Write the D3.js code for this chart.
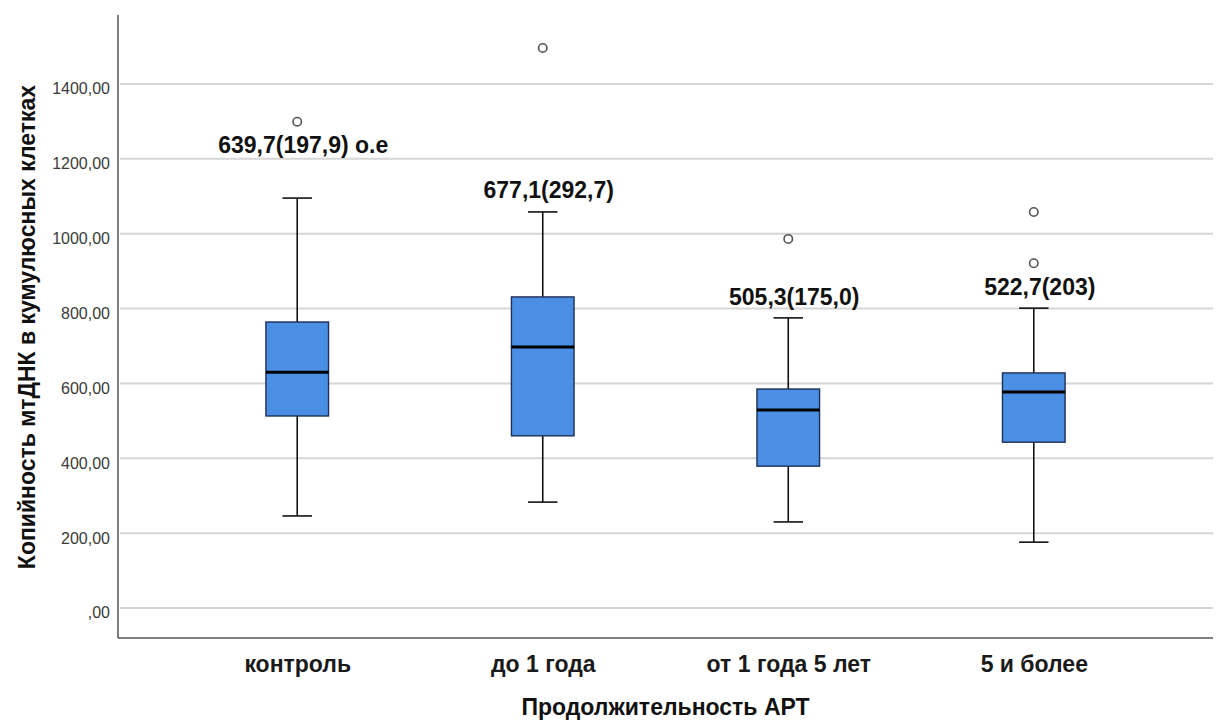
<!DOCTYPE html>
<html>
<head>
<meta charset="utf-8">
<script src="https://cdn.jsdelivr.net/npm/d3@7/dist/d3.min.js"></script>
<style>
  html, body { margin: 0; padding: 0; background: #fff; }
  svg { display: block; }
  text { font-family: "Liberation Sans", Arial, sans-serif; }
</style>
</head>
<body>
<svg id="chart" width="1219" height="722"></svg>
<script>
const categories = ["контроль", "до 1 года", "от 1 года 5 лет", "5 и более"];
const whiskerLow = [246, 283, 230, 176];
const q1 = [513, 460, 379, 443];
const median = [630, 697, 529, 577];
const q3 = [764, 831, 585, 628];
const whiskerHigh = [1095, 1058, 775, 801];
const outliers = [[1299], [1496], [986], [1058, 921]];
const annotations = ["639,7(197,9) о.е", "677,1(292,7)", "505,3(175,0)", "522,7(203)"];
const annotationY = [1216, 1095, 810, 836];
const yTicks = [0, 200, 400, 600, 800, 1000, 1200, 1400];
const xTitle = "Продолжительность АРТ";
const yTitle = "Копийность мтДНК в кумулюсных клетках";

const svg = d3.select("#chart");
const plotLeft = 118, plotRight = 1213, plotTop = 15, plotBottom = 638;

const y = d3.scaleLinear().domain([-80, 1584]).range([plotBottom, plotTop]);
const x = d3.scalePoint().domain(categories).range([plotLeft, plotRight]).padding(0.73);
const step = x.step();
const boxW = step * 0.255;
const capW = boxW * 0.47;

const fmt = v => d3.format(".2f")(v).replace(".", ",").replace(/^0,/, ",");

// gridlines
svg.append("g")
  .selectAll("line").data(yTicks).join("line")
  .attr("x1", plotLeft + 2).attr("x2", plotRight)
  .attr("y1", d => y(d)).attr("y2", d => y(d))
  .attr("stroke", "#d6d6d6").attr("stroke-width", 2);

// y axis
const yAxis = svg.append("g").attr("transform", `translate(${plotLeft},0)`)
  .call(d3.axisLeft(y).tickValues(yTicks).tickFormat(fmt).tickSize(0).tickPadding(8));
yAxis.select(".domain").remove();
yAxis.selectAll("text").attr("font-size", 16).attr("fill", "#3a3a3a")
  .attr("font-family", "'Liberation Sans', Arial, sans-serif").attr("dy", "0.62em");

// axis lines
svg.append("line").attr("x1", plotLeft).attr("x2", plotLeft).attr("y1", plotTop).attr("y2", plotBottom)
  .attr("stroke", "#555").attr("stroke-width", 1.5);
svg.append("line").attr("x1", plotLeft).attr("x2", plotRight).attr("y1", plotBottom).attr("y2", plotBottom)
  .attr("stroke", "#555").attr("stroke-width", 1.5);

// x axis labels
const xAxis = svg.append("g").attr("transform", `translate(0,${plotBottom})`)
  .call(d3.axisBottom(x).tickSize(0).tickPadding(18));
xAxis.select(".domain").remove();
xAxis.selectAll("text").attr("font-size", 23).attr("font-weight", "bold").attr("fill", "#1a1a1a")
  .attr("font-family", "'Liberation Sans', Arial, sans-serif");

// boxes
const g = svg.append("g");
categories.forEach((c, i) => {
  const cx = x(c);
  g.append("line").attr("x1", cx).attr("x2", cx).attr("y1", y(whiskerHigh[i])).attr("y2", y(q3[i]))
    .attr("stroke", "#111").attr("stroke-width", 1.6);
  g.append("line").attr("x1", cx).attr("x2", cx).attr("y1", y(q1[i])).attr("y2", y(whiskerLow[i]))
    .attr("stroke", "#111").attr("stroke-width", 1.6);
  g.append("line").attr("x1", cx - capW / 2).attr("x2", cx + capW / 2)
    .attr("y1", y(whiskerHigh[i])).attr("y2", y(whiskerHigh[i]))
    .attr("stroke", "#111").attr("stroke-width", 1.6);
  g.append("line").attr("x1", cx - capW / 2).attr("x2", cx + capW / 2)
    .attr("y1", y(whiskerLow[i])).attr("y2", y(whiskerLow[i]))
    .attr("stroke", "#111").attr("stroke-width", 1.6);
  g.append("rect").attr("x", cx - boxW / 2).attr("width", boxW)
    .attr("y", y(q3[i])).attr("height", y(q1[i]) - y(q3[i]))
    .attr("fill", "#4a8fe4").attr("stroke", "#1d2f55").attr("stroke-width", 1.4);
  g.append("line").attr("x1", cx - boxW / 2).attr("x2", cx + boxW / 2)
    .attr("y1", y(median[i])).attr("y2", y(median[i]))
    .attr("stroke", "#000").attr("stroke-width", 3);
  g.selectAll(null).data(outliers[i]).join("circle")
    .attr("cx", cx).attr("cy", d => y(d)).attr("r", 4.2)
    .attr("fill", "#fff").attr("stroke", "#555").attr("stroke-width", 1.6);
  g.append("text").attr("x", cx + 6).attr("y", y(annotationY[i]))
    .attr("text-anchor", "middle").attr("font-size", 23).attr("font-weight", "bold")
    .attr("fill", "#111").text(annotations[i]);
});

// titles
svg.append("text").attr("x", (plotLeft + plotRight) / 2).attr("y", 715)
  .attr("text-anchor", "middle").attr("font-size", 23).attr("font-weight", "bold")
  .attr("fill", "#111").text(xTitle);
svg.append("text").attr("transform", `translate(35,327) rotate(-90)`)
  .attr("text-anchor", "middle").attr("font-size", 23).attr("font-weight", "bold")
  .attr("fill", "#111").text(yTitle);
</script>
</body>
</html>
